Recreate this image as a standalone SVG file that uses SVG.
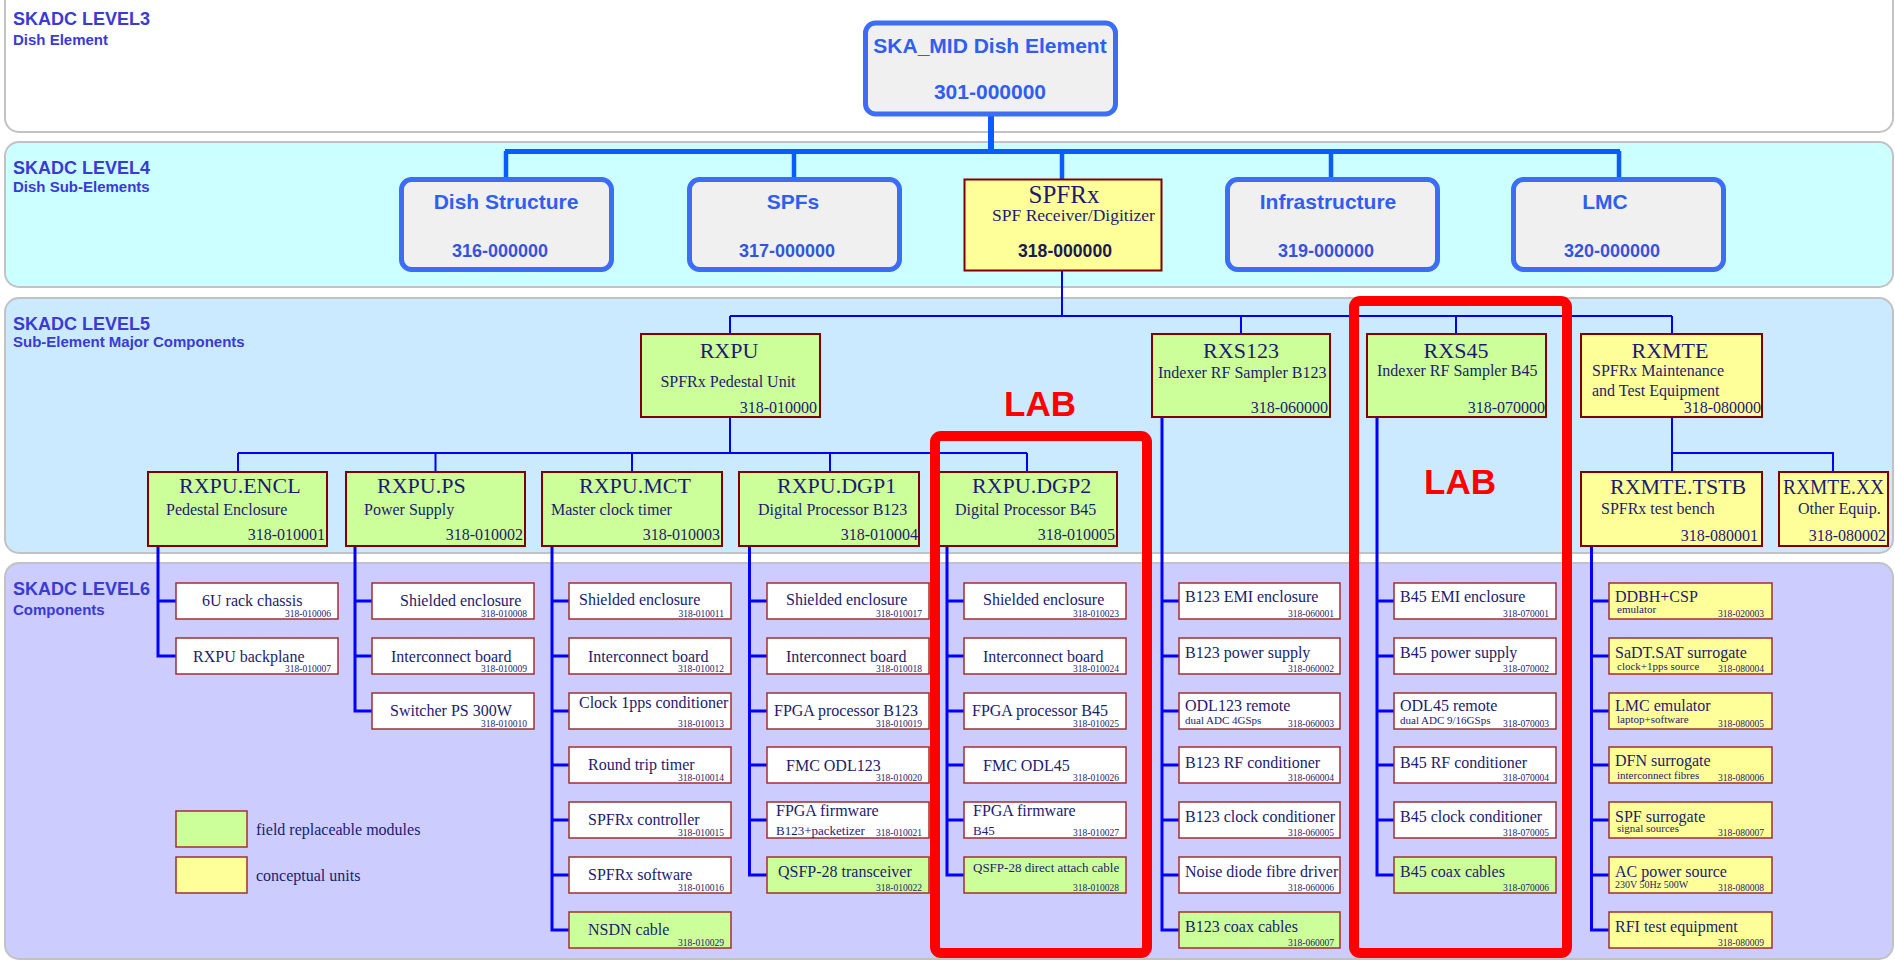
<svg xmlns="http://www.w3.org/2000/svg" width="1895" height="960" viewBox="0 0 1895 960">
<style>
.band{stroke:#c2c2c2;stroke-width:2}
.lvl{font-family:"Liberation Sans",Arial,sans-serif;font-weight:bold;fill:#3a3ad4}
.lt{font-size:18px}
.ls{font-size:15px}
.n4{fill:#f0f0f0;stroke:#3d6cf5;stroke-width:5}
.t4{font-family:"Liberation Sans",Arial,sans-serif;font-weight:bold;fill:#2f5ef2;text-anchor:middle}
.c4{font-family:"Liberation Sans",Arial,sans-serif;font-weight:bold;fill:#3355dd;text-anchor:middle;font-size:18px}
.g{fill:#ccff99}
.y{fill:#ffff99}
.w{fill:#ffffff}
.n5{stroke:#800000;stroke-width:2}
.n6{stroke:#a03030;stroke-width:1.5}
.s{font-family:"Liberation Serif","Times New Roman",serif;fill:#1b1b70}
.h5{font-size:22px}
.b16{font-size:16px}
.b13{font-size:13px}
.b11{font-size:11px}
.b10{font-size:10px}
.cd{font-family:"Liberation Serif","Times New Roman",serif;fill:#1b1b70;font-size:9.5px;text-anchor:end}
.r{text-anchor:end}
.m{text-anchor:middle}
.k1{fill:none;stroke:#0a5cff}
.k2{fill:none;stroke:#0000ff;stroke-width:2}
.k3{fill:none;stroke:#0000ff;stroke-width:3}
.lab{fill:none;stroke:#ff0000;stroke-width:10}
.labt{font-family:"Liberation Sans",Arial,sans-serif;font-weight:bold;font-size:35px;fill:#ff0000;text-anchor:middle}
</style>

<g id="bands">
<rect class="band" x="5" y="-12" width="1888" height="144" rx="14" fill="#ffffff"/>
<rect class="band" x="5" y="142" width="1888" height="145" rx="14" fill="#ccffff"/>
<rect class="band" x="5" y="298" width="1888" height="255" rx="14" fill="#cceaff"/>
<rect class="band" x="5" y="563" width="1888" height="396" rx="14" fill="#ccccff"/>
<text class="lvl lt" x="13" y="25">SKADC LEVEL3</text>
<text class="lvl ls" x="13" y="45">Dish Element</text>
<text class="lvl lt" x="13" y="174">SKADC LEVEL4</text>
<text class="lvl ls" x="13" y="192">Dish Sub-Elements</text>
<text class="lvl lt" x="13" y="330">SKADC LEVEL5</text>
<text class="lvl ls" x="13" y="347">Sub-Element Major Components</text>
<text class="lvl lt" x="13" y="595">SKADC LEVEL6</text>
<text class="lvl ls" x="13" y="615">Components</text>
</g>

<g id="connectors">
<path class="k1" stroke-width="6" d="M991 116V152"/>
<path class="k1" stroke-width="5" d="M505 151.5H1620"/>
<path class="k1" stroke-width="4.5" d="M506 151V178M794 151V178M1062 151V179M1331 151V178M1619 151V178"/>
<path class="k2" d="M1062 271V316M730 316H1672M730 316V334M1241 316V334M1456 316V334M1672 316V334"/>
<path class="k2" d="M730 417V453M238 453H1027M238 453V472M435.5 453V472M632 453V472M830 453V472M1027 453V472"/>
<path class="k2" d="M1672 417V453H1833V472M1672 453V472"/>
<path class="k3" d="M158 546V656H176M158 601H176"/>
<path class="k3" d="M355 546V711H372M355 601H372M355 656H372"/>
<path class="k3" d="M552 546V930H569M552 601H569M552 656H569M552 711H569M552 765H569M552 820H569M552 875H569"/>
<path class="k3" d="M749.5 546V875H767M749.5 601H767M749.5 656H767M749.5 711H767M749.5 765H767M749.5 820H767"/>
<path class="k3" d="M947 546V875H964M947 601H964M947 656H964M947 711H964M947 765H964M947 820H964"/>
<path class="k3" d="M1162 417V930H1179M1162 601H1179M1162 656H1179M1162 711H1179M1162 765H1179M1162 820H1179M1162 875H1179"/>
<path class="k3" d="M1377 417V875H1394M1377 601H1394M1377 656H1394M1377 711H1394M1377 765H1394M1377 820H1394"/>
<path class="k3" d="M1591.5 546V930H1609M1591.5 601H1609M1591.5 656H1609M1591.5 711H1609M1591.5 765H1609M1591.5 820H1609M1591.5 875H1609"/>
</g>

<g id="ska-mid">
<rect class="n4" x="865.5" y="23" width="250" height="91" rx="10"/>
<text class="t4" x="990" y="53" font-size="21">SKA_MID Dish Element</text>
<text class="t4" x="990" y="99" font-size="21">301-000000</text>
</g>

<g id="dish-structure">
<rect class="n4" x="401.5" y="179.5" width="210" height="90" rx="10"/>
<text class="t4" x="506" y="209" font-size="21">Dish Structure</text>
<text class="c4" x="500" y="257">316-000000</text>
</g>
<g id="spfs">
<rect class="n4" x="689.5" y="179.5" width="210" height="90" rx="10"/>
<text class="t4" x="793" y="209" font-size="21">SPFs</text>
<text class="c4" x="787" y="257">317-000000</text>
</g>
<g id="spfrx">
<rect class="y n5" x="964.5" y="179.5" width="197" height="91" stroke-width="1.5"/>
<text class="s m" x="1064" y="203" font-size="25">SPFRx</text>
<text class="s m" x="1073.5" y="221" font-size="17.5">SPF Receiver/Digitizer</text>
<text x="1065" y="257" font-family="Liberation Sans,Arial,sans-serif" font-weight="bold" font-size="17.6" fill="#1a1a50" text-anchor="middle">318-000000</text>
</g>
<g id="infrastructure">
<rect class="n4" x="1227.5" y="179.5" width="210" height="90" rx="10"/>
<text class="t4" x="1328" y="209" font-size="21">Infrastructure</text>
<text class="c4" x="1326" y="257">319-000000</text>
</g>
<g id="lmc">
<rect class="n4" x="1513.5" y="179.5" width="210" height="90" rx="10"/>
<text class="t4" x="1605" y="209" font-size="21">LMC</text>
<text class="c4" x="1612" y="257">320-000000</text>
</g>

<g id="rxpu">
<rect class="g n5" x="641" y="334" width="179" height="83"/>
<text class="s h5 m" x="729" y="358">RXPU</text>
<text class="s b16 m" x="728" y="387">SPFRx Pedestal Unit</text>
<text class="s b16 r" x="817" y="413">318-010000</text>
</g>
<g id="rxs123">
<rect class="g n5" x="1152" y="334" width="178" height="83"/>
<text class="s h5 m" x="1241" y="358">RXS123</text>
<text class="s b16" x="1158" y="378">Indexer RF Sampler B123</text>
<text class="s b16 r" x="1328" y="413">318-060000</text>
</g>
<g id="rxs45">
<rect class="g n5" x="1367" y="334" width="179" height="83"/>
<text class="s h5 m" x="1456" y="358">RXS45</text>
<text class="s b16" x="1377" y="376">Indexer RF Sampler B45</text>
<text class="s b16 r" x="1545" y="413">318-070000</text>
</g>
<g id="rxmte">
<rect class="y n5" x="1581" y="334" width="181" height="83"/>
<text class="s h5 m" x="1670" y="358">RXMTE</text>
<text class="s b16" x="1592" y="376">SPFRx Maintenance</text>
<text class="s b16" x="1592" y="396">and Test Equipment</text>
<text class="s b16 r" x="1761" y="413">318-080000</text>
</g>

<g id="rxpu-encl">
<rect class="g n5" x="148" y="472" width="179" height="74"/>
<text class="s h5" x="179" y="493">RXPU.ENCL</text>
<text class="s b16" x="166" y="515">Pedestal Enclosure</text>
<text class="s b16 r" x="325" y="540">318-010001</text>
</g>
<g id="rxpu-ps">
<rect class="g n5" x="346" y="472" width="179" height="74"/>
<text class="s h5" x="377" y="493">RXPU.PS</text>
<text class="s b16" x="364" y="515">Power Supply</text>
<text class="s b16 r" x="523" y="540">318-010002</text>
</g>
<g id="rxpu-mct">
<rect class="g n5" x="542" y="472" width="180" height="74"/>
<text class="s h5" x="579" y="493">RXPU.MCT</text>
<text class="s b16" x="551" y="515">Master clock timer</text>
<text class="s b16 r" x="720" y="540">318-010003</text>
</g>
<g id="rxpu-dgp1">
<rect class="g n5" x="739" y="472" width="180" height="74"/>
<text class="s h5" x="777" y="493">RXPU.DGP1</text>
<text class="s b16" x="758" y="515">Digital Processor B123</text>
<text class="s b16 r" x="918" y="540">318-010004</text>
</g>
<g id="rxpu-dgp2">
<rect class="g n5" x="937" y="472" width="180" height="74"/>
<text class="s h5" x="972" y="493">RXPU.DGP2</text>
<text class="s b16" x="955" y="515">Digital Processor B45</text>
<text class="s b16 r" x="1115" y="540">318-010005</text>
</g>
<g id="rxmte-tstb">
<rect class="y n5" x="1581" y="472" width="181" height="74"/>
<text class="s h5" x="1610" y="494">RXMTE.TSTB</text>
<text class="s b16" x="1601" y="514">SPFRx test bench</text>
<text class="s b16 r" x="1758" y="541">318-080001</text>
</g>
<g id="rxmte-xx">
<rect class="y n5" x="1779" y="472" width="109" height="74"/>
<text class="s h5" x="1783" y="494" textLength="101" lengthAdjust="spacingAndGlyphs">RXMTE.XX</text>
<text class="s b16" x="1798" y="514">Other Equip.</text>
<text class="s b16 r" x="1886" y="541">318-080002</text>
</g>

<!-- Level 6: RXPU.ENCL -->
<g id="n-010006"><rect class="w n6" x="176" y="583" width="162" height="36"/><text class="s b16" x="202" y="606">6U rack chassis</text><text class="cd" x="331" y="616.5">318-010006</text></g>
<g id="n-010007"><rect class="w n6" x="176" y="638" width="162" height="36"/><text class="s b16" x="193" y="662">RXPU backplane</text><text class="cd" x="331" y="671.5">318-010007</text></g>
<!-- RXPU.PS -->
<g id="n-010008"><rect class="w n6" x="372" y="583" width="162" height="36"/><text class="s b16" x="400" y="606">Shielded enclosure</text><text class="cd" x="527" y="616.5">318-010008</text></g>
<g id="n-010009"><rect class="w n6" x="372" y="638" width="162" height="36"/><text class="s b16" x="391" y="662">Interconnect board</text><text class="cd" x="527" y="671.5">318-010009</text></g>
<g id="n-010010"><rect class="w n6" x="372" y="693" width="162" height="36"/><text class="s b16" x="390" y="716">Switcher PS 300W</text><text class="cd" x="527" y="726.5">318-010010</text></g>
<!-- RXPU.MCT -->
<g id="n-010011"><rect class="w n6" x="569" y="583" width="162" height="36"/><text class="s b16" x="579" y="605">Shielded enclosure</text><text class="cd" x="724" y="616.5">318-010011</text></g>
<g id="n-010012"><rect class="w n6" x="569" y="638" width="162" height="36"/><text class="s b16" x="588" y="662">Interconnect board</text><text class="cd" x="724" y="671.5">318-010012</text></g>
<g id="n-010013"><rect class="w n6" x="569" y="693" width="162" height="36"/><text class="s b16" x="579" y="708">Clock 1pps conditioner</text><text class="cd" x="724" y="726.5">318-010013</text></g>
<g id="n-010014"><rect class="w n6" x="569" y="747" width="162" height="36"/><text class="s b16" x="588" y="770">Round trip timer</text><text class="cd" x="724" y="780.5">318-010014</text></g>
<g id="n-010015"><rect class="w n6" x="569" y="802" width="162" height="36"/><text class="s b16" x="588" y="825">SPFRx controller</text><text class="cd" x="724" y="835.5">318-010015</text></g>
<g id="n-010016"><rect class="w n6" x="569" y="857" width="162" height="36"/><text class="s b16" x="588" y="880">SPFRx software</text><text class="cd" x="724" y="890.5">318-010016</text></g>
<g id="n-010029"><rect class="g n6" x="569" y="912" width="162" height="36"/><text class="s b16" x="588" y="935">NSDN cable</text><text class="cd" x="724" y="945.5">318-010029</text></g>
<!-- RXPU.DGP1 -->
<g id="n-010017"><rect class="w n6" x="767" y="583" width="162" height="36"/><text class="s b16" x="786" y="605">Shielded enclosure</text><text class="cd" x="922" y="616.5">318-010017</text></g>
<g id="n-010018"><rect class="w n6" x="767" y="638" width="162" height="36"/><text class="s b16" x="786" y="662">Interconnect board</text><text class="cd" x="922" y="671.5">318-010018</text></g>
<g id="n-010019"><rect class="w n6" x="767" y="693" width="162" height="36"/><text class="s b16" x="774" y="716">FPGA processor B123</text><text class="cd" x="922" y="726.5">318-010019</text></g>
<g id="n-010020"><rect class="w n6" x="767" y="747" width="162" height="36"/><text class="s b16" x="786" y="771">FMC ODL123</text><text class="cd" x="922" y="780.5">318-010020</text></g>
<g id="n-010021"><rect class="w n6" x="767" y="802" width="162" height="36"/><text class="s b16" x="776" y="816">FPGA firmware</text><text class="s b13" x="776" y="835">B123+packetizer</text><text class="cd" x="922" y="835.5">318-010021</text></g>
<g id="n-010022"><rect class="g n6" x="767" y="857" width="162" height="36"/><text class="s b16" x="778" y="877">QSFP-28 transceiver</text><text class="cd" x="922" y="890.5">318-010022</text></g>
<!-- RXPU.DGP2 -->
<g id="n-010023"><rect class="w n6" x="964" y="583" width="162" height="36"/><text class="s b16" x="983" y="605">Shielded enclosure</text><text class="cd" x="1119" y="616.5">318-010023</text></g>
<g id="n-010024"><rect class="w n6" x="964" y="638" width="162" height="36"/><text class="s b16" x="983" y="662">Interconnect board</text><text class="cd" x="1119" y="671.5">318-010024</text></g>
<g id="n-010025"><rect class="w n6" x="964" y="693" width="162" height="36"/><text class="s b16" x="972" y="716">FPGA processor B45</text><text class="cd" x="1119" y="726.5">318-010025</text></g>
<g id="n-010026"><rect class="w n6" x="964" y="747" width="162" height="36"/><text class="s b16" x="983" y="771">FMC ODL45</text><text class="cd" x="1119" y="780.5">318-010026</text></g>
<g id="n-010027"><rect class="w n6" x="964" y="802" width="162" height="36"/><text class="s b16" x="973" y="816">FPGA firmware</text><text class="s b13" x="973" y="835">B45</text><text class="cd" x="1119" y="835.5">318-010027</text></g>
<g id="n-010028"><rect class="g n6" x="964" y="857" width="162" height="36"/><text class="s b13" x="973" y="872">QSFP-28 direct attach cable</text><text class="cd" x="1119" y="890.5">318-010028</text></g>
<!-- RXS123 -->
<g id="n-060001"><rect class="w n6" x="1179" y="583" width="161" height="36"/><text class="s b16" x="1185" y="602">B123 EMI enclosure</text><text class="cd" x="1334" y="616.5">318-060001</text></g>
<g id="n-060002"><rect class="w n6" x="1179" y="638" width="161" height="36"/><text class="s b16" x="1185" y="658">B123 power supply</text><text class="cd" x="1334" y="671.5">318-060002</text></g>
<g id="n-060003"><rect class="w n6" x="1179" y="693" width="161" height="36"/><text class="s b16" x="1185" y="711">ODL123 remote</text><text class="s b11" x="1185" y="724">dual ADC 4GSps</text><text class="cd" x="1334" y="726.5">318-060003</text></g>
<g id="n-060004"><rect class="w n6" x="1179" y="747" width="161" height="36"/><text class="s b16" x="1185" y="768">B123 RF conditioner</text><text class="cd" x="1334" y="780.5">318-060004</text></g>
<g id="n-060005"><rect class="w n6" x="1179" y="802" width="161" height="36"/><text class="s b16" x="1185" y="822">B123 clock conditioner</text><text class="cd" x="1334" y="835.5">318-060005</text></g>
<g id="n-060006"><rect class="w n6" x="1179" y="857" width="161" height="36"/><text class="s b16" x="1185" y="877">Noise diode fibre driver</text><text class="cd" x="1334" y="890.5">318-060006</text></g>
<g id="n-060007"><rect class="g n6" x="1179" y="912" width="161" height="36"/><text class="s b16" x="1185" y="932">B123 coax cables</text><text class="cd" x="1334" y="945.5">318-060007</text></g>
<!-- RXS45 -->
<g id="n-070001"><rect class="w n6" x="1394" y="583" width="162" height="36"/><text class="s b16" x="1400" y="602">B45 EMI enclosure</text><text class="cd" x="1549" y="616.5">318-070001</text></g>
<g id="n-070002"><rect class="w n6" x="1394" y="638" width="162" height="36"/><text class="s b16" x="1400" y="658">B45 power supply</text><text class="cd" x="1549" y="671.5">318-070002</text></g>
<g id="n-070003"><rect class="w n6" x="1394" y="693" width="162" height="36"/><text class="s b16" x="1400" y="711">ODL45 remote</text><text class="s b11" x="1400" y="724">dual ADC 9/16GSps</text><text class="cd" x="1549" y="726.5">318-070003</text></g>
<g id="n-070004"><rect class="w n6" x="1394" y="747" width="162" height="36"/><text class="s b16" x="1400" y="768">B45 RF conditioner</text><text class="cd" x="1549" y="780.5">318-070004</text></g>
<g id="n-070005"><rect class="w n6" x="1394" y="802" width="162" height="36"/><text class="s b16" x="1400" y="822">B45 clock conditioner</text><text class="cd" x="1549" y="835.5">318-070005</text></g>
<g id="n-070006"><rect class="g n6" x="1394" y="857" width="162" height="36"/><text class="s b16" x="1400" y="877">B45 coax cables</text><text class="cd" x="1549" y="890.5">318-070006</text></g>
<!-- RXMTE.TSTB -->
<g id="n-020003"><rect class="y n6" x="1609" y="583" width="163" height="36"/><text class="s b16" x="1615" y="602">DDBH+CSP</text><text class="s b11" x="1617" y="613">emulator</text><text class="cd" x="1764" y="616.5">318-020003</text></g>
<g id="n-080004"><rect class="y n6" x="1609" y="638" width="163" height="36"/><text class="s b16" x="1615" y="658">SaDT.SAT surrogate</text><text class="s b11" x="1617" y="670">clock+1pps source</text><text class="cd" x="1764" y="671.5">318-080004</text></g>
<g id="n-080005"><rect class="y n6" x="1609" y="693" width="163" height="36"/><text class="s b16" x="1615" y="711">LMC emulator</text><text class="s b11" x="1617" y="723">laptop+software</text><text class="cd" x="1764" y="726.5">318-080005</text></g>
<g id="n-080006"><rect class="y n6" x="1609" y="747" width="163" height="36"/><text class="s b16" x="1615" y="766">DFN surrogate</text><text class="s b11" x="1617" y="779">interconnect fibres</text><text class="cd" x="1764" y="780.5">318-080006</text></g>
<g id="n-080007"><rect class="y n6" x="1609" y="802" width="163" height="36"/><text class="s b16" x="1615" y="822">SPF surrogate</text><text class="s b11" x="1617" y="832">signal sources</text><text class="cd" x="1764" y="835.5">318-080007</text></g>
<g id="n-080008"><rect class="y n6" x="1609" y="857" width="163" height="36"/><text class="s b16" x="1615" y="877">AC power source</text><text class="s b10" x="1615" y="888">230V 50Hz 500W</text><text class="cd" x="1764" y="890.5">318-080008</text></g>
<g id="n-080009"><rect class="y n6" x="1609" y="912" width="163" height="36"/><text class="s b16" x="1615" y="932">RFI test equipment</text><text class="cd" x="1764" y="945.5">318-080009</text></g>

<g id="legend">
<rect class="g n6" x="176" y="811" width="71" height="36"/>
<text class="s b16" x="256" y="835">field replaceable modules</text>
<rect class="y n6" x="176" y="857" width="71" height="36"/>
<text class="s b16" x="256" y="881">conceptual units</text>
</g>

<g id="lab-marks">
<rect class="lab" x="935" y="436" width="212" height="517" rx="6"/>
<text class="labt" x="1040" y="416">LAB</text>
<rect class="lab" x="1354" y="301" width="213" height="652" rx="6"/>
<text class="labt" x="1460" y="494">LAB</text>
</g>
</svg>
